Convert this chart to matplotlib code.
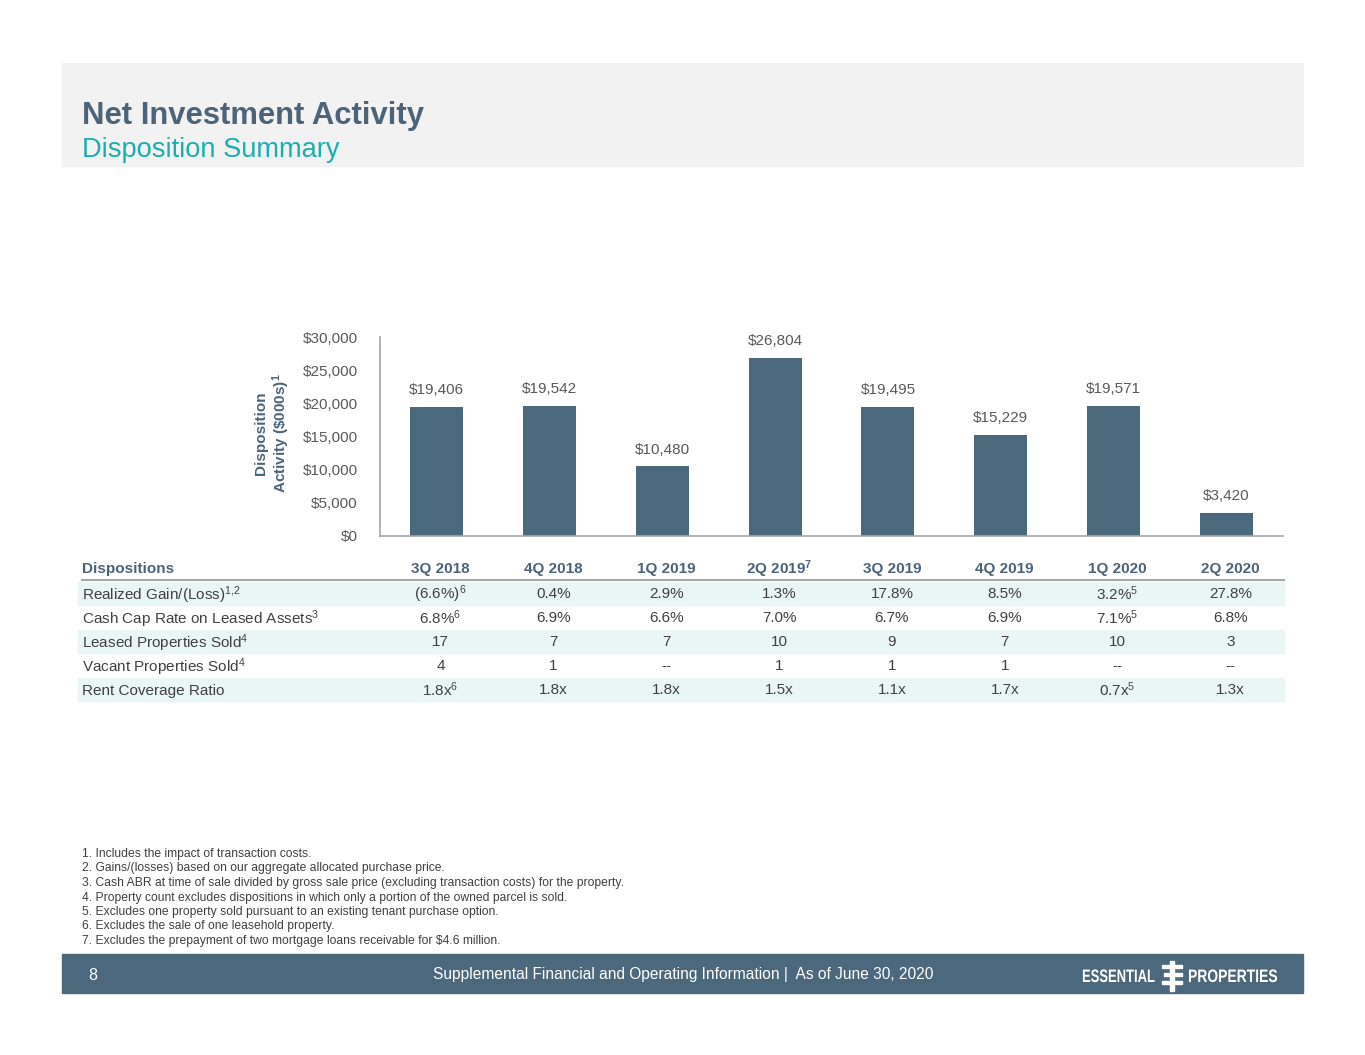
import matplotlib.pyplot as plt
from matplotlib.patches import Rectangle, PathPatch
from matplotlib.textpath import TextPath
from matplotlib.font_manager import FontProperties
from matplotlib.transforms import Affine2D
from matplotlib.ticker import FuncFormatter

plt.rcParams['font.family'] = ['Liberation Sans', 'DejaVu Sans']
plt.rcParams['mathtext.fontset'] = 'custom'
plt.rcParams['mathtext.rm'] = 'Liberation Sans'
plt.rcParams['mathtext.it'] = 'Liberation Sans:italic'
plt.rcParams['mathtext.bf'] = 'Liberation Sans:bold'

# data
quarters = ['3Q 2018', '4Q 2018', '1Q 2019', '2Q 2019', '3Q 2019', '4Q 2019', '1Q 2020', '2Q 2020']
quarter_notes = ['', '', '', '7', '', '', '', '']
disposition_activity = [19406, 19542, 10480, 26804, 19495, 15229, 19571, 3420]
y_ticks = [0, 5000, 10000, 15000, 20000, 25000, 30000]

row_labels = ['Realized Gain/(Loss)', 'Cash Cap Rate on Leased Assets', 'Leased Properties Sold',
              'Vacant Properties Sold', 'Rent Coverage Ratio']
row_label_notes = ['1{,}2', '3', '4', '4', '']
realized_gain = ['(6.6%)', '0.4%', '2.9%', '1.3%', '17.8%', '8.5%', '3.2%', '27.8%']
realized_gain_notes = ['6', '', '', '', '', '', '5', '']
cash_cap_rate = ['6.8%', '6.9%', '6.6%', '7.0%', '6.7%', '6.9%', '7.1%', '6.8%']
cash_cap_rate_notes = ['6', '', '', '', '', '', '5', '']
leased_sold = ['17', '7', '7', '10', '9', '7', '10', '3']
vacant_sold = ['4', '1', '--', '1', '1', '1', '--', '--']
rent_coverage = ['1.8x', '1.8x', '1.8x', '1.5x', '1.1x', '1.7x', '0.7x', '1.3x']
rent_coverage_notes = ['6', '', '', '', '', '', '5', '']
no_notes = [''] * 8

footnotes = [
    '1. Includes the impact of transaction costs.',
    '2. Gains/(losses) based on our aggregate allocated purchase price.',
    '3. Cash ABR at time of sale divided by gross sale price (excluding transaction costs) for the property.',
    '4. Property count excludes dispositions in which only a portion of the owned parcel is sold.',
    '5. Excludes one property sold pursuant to an existing tenant purchase option.',
    '6. Excludes the sale of one leasehold property.',
    '7. Excludes the prepayment of two mortgage loans receivable for $4.6 million.',
]

W, H = 1365, 1055
SLATE = '#4b687c'
TITLE = '#4b6479'
TEAL = '#1aafae'
GREY = '#595959'
DARK = '#404040'
SHADE = '#e9f6f6'


def fx(x):
    return x / W


def fy(y):
    return 1 - y / H


def sup(text, note):
    if note:
        return text + r'$^{\mathregular{' + note + '}}$'
    return text


def narrow_text(fig, text, x, y, size, squeeze):
    # condensed bold caps, drawn as a path squeezed sideways (pixel coords, top-left origin)
    tp = TextPath((0, 0), text, size=size, prop=FontProperties(family='Liberation Sans', weight='bold'))
    k = 100 / 72
    tr = Affine2D().scale(k * squeeze, k).translate(x, H - y)
    fig.patches.append(PathPatch(tp, transform=tr, color='white', lw=0))


fig = plt.figure(figsize=(W / 100, H / 100), dpi=100)

# header band
fig.patches.append(Rectangle((fx(62), fy(166)), fx(1303) - fx(62), fy(63) - fy(166),
                             transform=fig.transFigure, color='#f2f2f2', zorder=0))
fig.text(fx(82), fy(124), 'Net Investment Activity', fontsize=22.3, fontweight='bold',
         color=TITLE, va='baseline')
fig.text(fx(82), fy(157), 'Disposition Summary', fontsize=19.6, color=TEAL, va='baseline')

# chart
ax = fig.add_axes([fx(380), fy(536), fx(1283) - fx(380), fy(337) - fy(536)])
x = range(len(quarters))
bars = ax.bar(x, disposition_activity, width=0.47, color='#4a697d')
for b, v in zip(bars, disposition_activity):
    ax.text(b.get_x() + b.get_width() / 2, v + 1500, '${:,}'.format(v), ha='center',
            va='bottom', fontsize=11, color=GREY)
ax.set_xlim(-0.5, len(quarters) - 0.5)
ax.set_ylim(0, 30000)
ax.set_yticks(y_ticks)
ax.yaxis.set_major_formatter(FuncFormatter(lambda v, p: '${:,.0f}'.format(v)))
ax.tick_params(axis='y', length=0, pad=16, labelsize=11, labelcolor=GREY)
ax.set_xticks([])
for s in ['top', 'right']:
    ax.spines[s].set_visible(False)
for s in ['left', 'bottom']:
    ax.spines[s].set_color('#a6a6a6')
    ax.spines[s].set_linewidth(1.2)
ax.set_facecolor('none')
fig.text(fx(273), fy(433), 'Disposition\n' + r'Activity (\$000s)$^{\mathregular{1}}$',
         rotation=90, ha='center', va='center', fontsize=11, fontweight='bold',
         color=TITLE, linespacing=1.15)

# table columns follow the bar positions
fig.canvas.draw()
col_x = [fig.transFigure.inverted().transform(ax.transData.transform((i + 0.035, 0)))[0]
         for i in x]

header_y = 569
fig.text(fx(82), fy(header_y), 'Dispositions', fontsize=11, fontweight='bold', color=TITLE,
         va='center')
for cx, q, n in zip(col_x, quarters, quarter_notes):
    fig.text(cx, fy(header_y), sup(q, n), fontsize=11, fontweight='bold', color=TITLE,
             ha='center', va='center')
fig.add_artist(plt.Line2D([fx(82), fx(1284)], [fy(580), fy(580)], color='#a6a6a6', lw=1.5,
                          transform=fig.transFigure))

rows = [(realized_gain, realized_gain_notes), (cash_cap_rate, cash_cap_rate_notes),
        (leased_sold, no_notes), (vacant_sold, no_notes), (rent_coverage, rent_coverage_notes)]
row_top = 582
row_h = 24
for r, (label, lnote, (vals, notes)) in enumerate(zip(row_labels, row_label_notes, rows)):
    top = row_top + r * row_h
    mid = top + row_h / 2
    if r % 2 == 0:
        fig.patches.append(Rectangle((fx(78), fy(top + row_h - 1)), fx(1284) - fx(78),
                                     (row_h - 1) / H, transform=fig.transFigure,
                                     color=SHADE, zorder=0))
    fig.text(fx(82), fy(mid + 1), sup(label, lnote), fontsize=11, color=DARK, va='center')
    for cx, v, n in zip(col_x, vals, notes):
        fig.text(cx, fy(mid), sup(v, n), fontsize=11, color=DARK, ha='center', va='center')

# footnotes
for i, t in enumerate(footnotes):
    fig.text(fx(82), fy(854 + i * 14.5), t, fontsize=8.75, color=DARK, va='center')

# footer band
fig.patches.append(Rectangle((fx(62), fy(993)), fx(1303) - fx(62), fy(954) - fy(993),
                             transform=fig.transFigure, color=SLATE, zorder=0))
fig.text(fx(88), fy(975), '8', fontsize=11.5, color='white', va='center')
fig.text(fx(683), fy(974), 'Supplemental Financial and Operating Information |  As of June 30, 2020',
         fontsize=11.2, color='white', ha='center', va='center')
narrow_text(fig, 'ESSENTIAL', 1082, 982, 13, 0.72)
narrow_text(fig, 'PROPERTIES', 1188, 982, 13, 0.77)
# small logo mark
fig.patches.append(Rectangle((fx(1170), fy(991)), 4 / W, 30 / H, transform=fig.transFigure,
                             color='white'))
for yy, x0, w0 in ((966, 1162, 20), (974, 1164, 18), (982, 1162, 20)):
    fig.patches.append(Rectangle((fx(x0), fy(yy + 2)), w0 / W, 3.5 / H,
                                 transform=fig.transFigure, color='white'))

fig.savefig('out.png', dpi=100)
